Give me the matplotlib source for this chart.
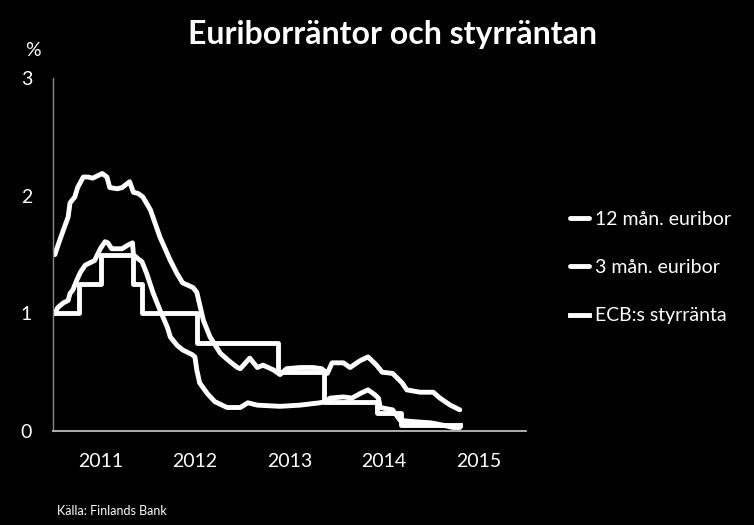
import numpy as np
import matplotlib.pyplot as plt
from matplotlib.ticker import FixedLocator

# 12 mån. euribor (decimal year, %)
e12_t = [2011.02, 2011.04, 2011.11, 2011.16, 2011.18, 2011.23, 2011.26, 2011.32, 2011.37,
         2011.42, 2011.52, 2011.57, 2011.60, 2011.68, 2011.73, 2011.81, 2011.85, 2011.90,
         2011.95, 2012.03, 2012.13, 2012.24, 2012.31, 2012.37, 2012.48, 2012.52, 2012.59,
         2012.66, 2012.77, 2012.87, 2012.95, 2012.98, 2013.08, 2013.16, 2013.22, 2013.33,
         2013.40, 2013.47, 2013.61, 2013.75, 2013.84, 2013.90, 2013.95, 2014.07, 2014.14,
         2014.25, 2014.33, 2014.42, 2014.48, 2014.59, 2014.69, 2014.74, 2014.88, 2015.02,
         2015.09, 2015.20, 2015.30]
e12_v = [1.50, 1.55, 1.71, 1.82, 1.94, 1.99, 2.07, 2.16, 2.16,
         2.15, 2.19, 2.16, 2.07, 2.06, 2.07, 2.12, 2.03, 2.02,
         1.99, 1.88, 1.65, 1.45, 1.34, 1.26, 1.22, 1.18, 0.94,
         0.80, 0.66, 0.59, 0.54, 0.53, 0.62, 0.54, 0.56, 0.52,
         0.48, 0.53, 0.54, 0.54, 0.53, 0.49, 0.58, 0.58, 0.54,
         0.60, 0.63, 0.56, 0.50, 0.49, 0.41, 0.35, 0.33, 0.33,
         0.28, 0.22, 0.18]

# 3 mån. euribor
e3_t = [2011.02, 2011.05, 2011.11, 2011.16, 2011.18, 2011.21, 2011.25, 2011.29, 2011.34,
        2011.39, 2011.44, 2011.50, 2011.55, 2011.58, 2011.62, 2011.73, 2011.79, 2011.84,
        2011.85, 2011.89, 2011.94, 2011.99, 2012.06, 2012.13, 2012.21, 2012.24, 2012.31,
        2012.37, 2012.47, 2012.50, 2012.52, 2012.55, 2012.63, 2012.71, 2012.84, 2012.98,
        2013.06, 2013.16, 2013.40, 2013.61, 2013.82, 2013.88, 2013.93, 2014.07, 2014.16,
        2014.25, 2014.33, 2014.40, 2014.44, 2014.46, 2014.59, 2014.67, 2014.81, 2014.99,
        2015.12, 2015.23, 2015.30]
e3_v = [1.00, 1.05, 1.09, 1.11, 1.17, 1.20, 1.28, 1.35, 1.41,
        1.43, 1.45, 1.55, 1.61, 1.60, 1.55, 1.55, 1.58, 1.60,
        1.50, 1.47, 1.44, 1.34, 1.17, 1.03, 0.88, 0.80, 0.73,
        0.69, 0.65, 0.63, 0.52, 0.41, 0.32, 0.25, 0.20, 0.20,
        0.24, 0.22, 0.21, 0.22, 0.24, 0.25, 0.28, 0.29, 0.28,
        0.32, 0.35, 0.31, 0.28, 0.20, 0.18, 0.09, 0.08, 0.07,
        0.05, 0.03, 0.03]

# ECB:s styrränta (step changes)
ecb_t = [2011.02, 2011.27, 2011.51, 2011.85, 2011.94, 2012.52, 2013.38, 2013.87, 2014.43, 2014.68, 2015.30]
ecb_v = [1.00, 1.25, 1.50, 1.25, 1.00, 0.75, 0.50, 0.25, 0.15, 0.05, 0.05]

years = [2011, 2012, 2013, 2014, 2015]

plt.rcParams['font.family'] = ['Lato', 'DejaVu Sans']

fig = plt.figure(figsize=(7.54, 5.25), dpi=100, facecolor='black')
ax = fig.add_axes([0.0703, 0.179, 0.6273, 0.672], facecolor='black')

lw = 3.5
ax.plot(e12_t, e12_v, color='white', lw=lw, label='12 mån. euribor', solid_capstyle='round')
ax.plot(e3_t, e3_v, color='white', lw=lw, label='3 mån. euribor', solid_capstyle='round')
ax.plot(ecb_t, ecb_v, color='white', lw=lw, drawstyle='steps-post', label='ECB:s styrränta')

ax.set_xlim(2011, 2016)
ax.set_ylim(0, 3)
ax.xaxis.set_major_locator(FixedLocator([y + 0.5 for y in years]))
ax.set_xticklabels([str(y) for y in years])
ax.set_yticks([0, 1, 2, 3])
ax.set_yticklabels(['0', '1', '2', '3'])
ax.tick_params(colors='white', labelsize=14, length=0)
ax.tick_params(axis='y', pad=15)
ax.tick_params(axis='x', pad=16)
for s in ['top', 'right']:
    ax.spines[s].set_visible(False)
ax.spines['left'].set_color('#888888')
ax.spines['bottom'].set_color('#bbbbbb')
ax.spines['left'].set_linewidth(1)
ax.spines['bottom'].set_linewidth(1.3)

fig.text(0.044, 0.903, '%', color='white', fontsize=14, ha='center', va='center')
fig.text(0.52, 0.935, 'Euriborräntor och styrräntan', color='white', fontsize=23,
         fontweight='bold', ha='center', va='center')
fig.text(0.075, 0.027, 'Källa: Finlands Bank', color='white', fontsize=9, ha='left', va='center')

leg = ax.legend(loc='center left', bbox_to_anchor=(0.733, 0.49), bbox_transform=fig.transFigure,
                frameon=False, handlelength=0.95, handletextpad=0.35, labelspacing=1.6, fontsize=14)
for t in leg.get_texts():
    t.set_color('white')

fig.savefig('out.png', dpi=100, facecolor='black')
